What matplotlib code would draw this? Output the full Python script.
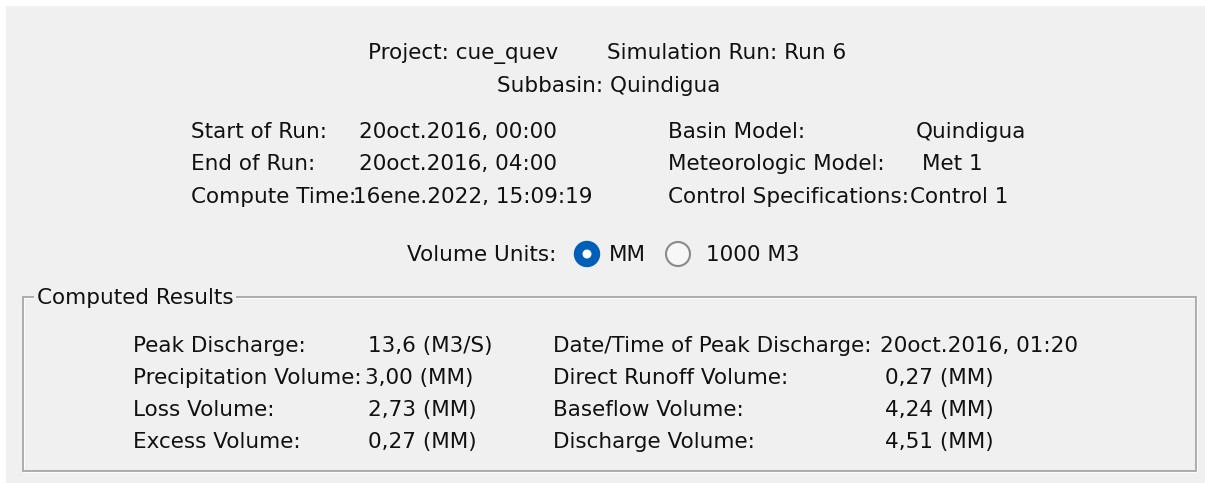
import matplotlib.pyplot as plt
from matplotlib.patches import Rectangle, Circle

# header info
title_line1 = ["Project: cue_quev", "Simulation Run: Run 6"]
title_line2 = "Subbasin: Quindigua"

run_labels = ["Start of Run:", "End of Run:", "Compute Time:"]
run_values = ["20oct.2016, 00:00", "20oct.2016, 04:00", "16ene.2022, 15:09:19"]
model_labels = ["Basin Model:", "Meteorologic Model:", "Control Specifications:"]
model_values = ["Quindigua", "Met 1", "Control 1"]

unit_options = ["MM", "1000 M3"]
unit_selected = 0

# computed results
res_left_labels = ["Peak Discharge:", "Precipitation Volume:", "Loss Volume:", "Excess Volume:"]
res_left_values = ["13,6 (M3/S)", "3,00 (MM)", "2,73 (MM)", "0,27 (MM)"]
res_right_labels = ["Date/Time of Peak Discharge:", "Direct Runoff Volume:",
                    "Baseflow Volume:", "Discharge Volume:"]
res_right_values = ["20oct.2016, 01:20", "0,27 (MM)", "4,24 (MM)", "4,51 (MM)"]

W, H = 1205, 483
bg = '#f0f0f0'
fs = 15.5
font = 'DejaVu Sans'
tc = '#111111'
dy = 7  # baseline offset below visual centre

fig = plt.figure(figsize=(W / 100, H / 100), dpi=100)
fig.patch.set_facecolor('white')
ax = fig.add_axes([0, 0, 1, 1])
ax.set_xlim(0, W)
ax.set_ylim(H, 0)
ax.axis('off')

# dialog background
ax.add_patch(Rectangle((6, 6), W, H, facecolor=bg, edgecolor='none'))


def txt(x, y, s, ha='left', **kw):
    ax.text(x, y + dy, s, fontsize=fs, family=font, color=tc, va='baseline', ha=ha, **kw)


# title lines
txt(368, 52, title_line1[0])
txt(607, 52, title_line1[1])
txt(609, 85, title_line2, ha='center')

# run info
row_y = [131, 163, 196]
for i in range(3):
    txt(191, row_y[i], run_labels[i])
    txt(359 if i < 2 else 353, row_y[i], run_values[i])
    txt(668, row_y[i], model_labels[i])
    txt([916, 922, 910][i], row_y[i], model_values[i])

# volume units radio buttons
uy = 254
txt(407, uy, "Volume Units:")
radio_x = [587, 678]
label_x = [609, 706]
for i, opt in enumerate(unit_options):
    if i == unit_selected:
        ax.add_patch(Circle((radio_x[i], uy), 12.5, facecolor='#005fb8', edgecolor='#005fb8'))
        ax.add_patch(Circle((radio_x[i], uy), 4.5, facecolor='white', edgecolor='none'))
    else:
        ax.add_patch(Circle((radio_x[i], uy), 12, facecolor='#f7f7f7', edgecolor='#8a8a8a', lw=1.5))
    txt(label_x[i], uy, opt)

# group box (etched)
ax.add_patch(Rectangle((24, 298), 1173, 174, facecolor='none', edgecolor='white', lw=1.2))
ax.add_patch(Rectangle((23, 297), 1173, 174, facecolor='none', edgecolor='#a0a0a0', lw=1.2))
txt(37, 297, "Computed Results", bbox=dict(facecolor=bg, edgecolor='none', pad=2))

res_y = [345, 377, 409, 441]
for i in range(4):
    txt(133, res_y[i], res_left_labels[i])
    txt(368 if i != 1 else 365, res_y[i], res_left_values[i])
    txt(553, res_y[i], res_right_labels[i])
    txt(880 if i == 0 else 885, res_y[i], res_right_values[i])

fig.savefig('out.png', dpi=100, facecolor=fig.get_facecolor())
